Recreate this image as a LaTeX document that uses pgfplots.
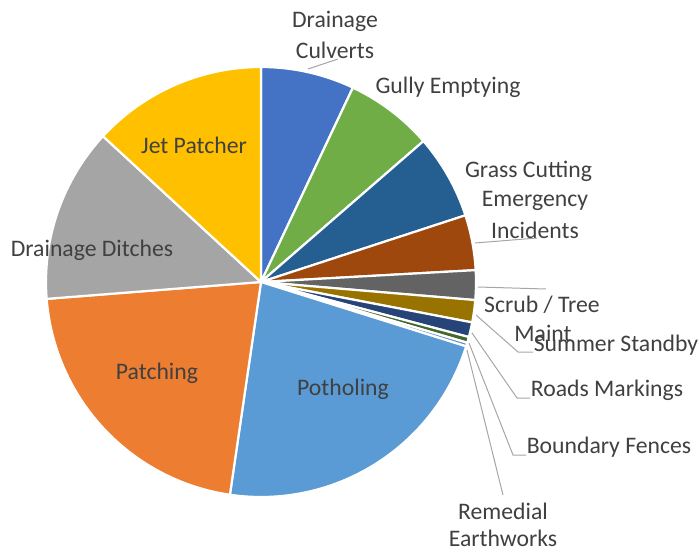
\documentclass[border=0pt]{standalone}
\usepackage{pgfplots}
\pgfplotsset{compat=1.18}
\usepackage{fontspec}
\setmainfont{Carlito}
\definecolor{c1}{HTML}{4472C4}
\definecolor{c2}{HTML}{70AD47}
\definecolor{c3}{HTML}{255E91}
\definecolor{c4}{HTML}{9E480E}
\definecolor{c5}{HTML}{636363}
\definecolor{c6}{HTML}{997300}
\definecolor{c7}{HTML}{264478}
\definecolor{c8}{HTML}{43682B}
\definecolor{c9}{HTML}{698ED0}
\definecolor{c10}{HTML}{5B9BD5}
\definecolor{c11}{HTML}{ED7D31}
\definecolor{c12}{HTML}{A5A5A5}
\definecolor{c13}{HTML}{FFC000}
\definecolor{txt}{HTML}{404040}
\definecolor{lead}{HTML}{A6A6A6}
\tikzset{lbl/.style={font=\fontsize{23.7}{28.5}\selectfont, text=txt, inner sep=0pt}}
\newcommand\cum{0}
\newcommand\slice[2]{%
  \pgfmathsetmacro\sa{\cum*3.6}%
  \pgfmathsetmacro\newcum{\cum+#1}%
  \pgfmathsetmacro\sb{\newcum*3.6}%
  \xdef\cum{\newcum}%
  \edef\temp{\noexpand\addplot[fill=#2, draw=white, line width=2.2pt, line join=round, domain=\sa:\sb, samples=80] ({261+215*sin(x)},{282-215*cos(x)}) -- (axis cs:261,282) -- cycle;}%
  \temp}
\begin{document}
\begin{tikzpicture}
\useasboundingbox (0,0) rectangle (699pt,552pt);
\begin{axis}[hide axis, scale only axis, width=699pt, height=552pt,
  xmin=0, xmax=699, ymin=0, ymax=552, y dir=reverse, clip=false]
% slice values (percent), clockwise from 12 o'clock
\slice{7.03}{c1}  % Drainage Culverts
\slice{6.60}{c2}  % Gully Emptying
\slice{6.35}{c3}  % Grass Cutting
\slice{4.14}{c4}  % Emergency Incidents
\slice{2.22}{c5}  % Scrub / Tree Maint
\slice{1.67}{c6}  % Summer Standby
\slice{1.11}{c7}  % Roads Markings
\slice{0.44}{c8}  % Boundary Fences
\slice{0.28}{c9}  % Remedial Earthworks
\slice{22.47}{c10} % Potholing
\slice{21.44}{c11} % Patching
\slice{13.11}{c12} % Drainage Ditches
\slice{13.14}{c13} % Jet Patcher
% leader lines
\addplot[lead, line width=1pt] coordinates {(308,69) (338,59)};
\addplot[lead, line width=1pt] coordinates {(475,243) (537,238)};
\addplot[lead, line width=1pt] coordinates {(478,287) (546,289)};
\addplot[lead, line width=1pt] coordinates {(476,315) (518,352) (533,352)};
\addplot[lead, line width=1pt] coordinates {(472,333) (517,398) (530,398)};
\addplot[lead, line width=1pt] coordinates {(469,343) (513,455) (526,455)};
\addplot[lead, line width=1pt] coordinates {(467,350) (503,495)};
% labels
\node[lbl] at (axis cs:335,21) {Drainage};
\node[lbl] at (axis cs:335,50) {Culverts};
\node[lbl] at (axis cs:448,87) {Gully Emptying};
\node[lbl] at (axis cs:528.5,171) {Grass Cutting};
\node[lbl] at (axis cs:535,201) {Emergency};
\node[lbl] at (axis cs:535,230) {Incidents};
\node[lbl] at (axis cs:542,305) {Scrub / Tree};
\node[lbl] at (axis cs:543,333) {Maint};
\node[lbl] at (axis cs:616,345) {Summer Standby};
\node[lbl] at (axis cs:607,390) {Roads Markings};
\node[lbl] at (axis cs:609,447) {Boundary Fences};
\node[lbl] at (axis cs:503,511) {Remedial};
\node[lbl] at (axis cs:503,538) {Earthworks};
\node[lbl] at (axis cs:194,145) {Jet Patcher};
\node[lbl] at (axis cs:92,250) {Drainage Ditches};
\node[lbl] at (axis cs:157,373) {Patching};
\node[lbl] at (axis cs:343,389) {Potholing};
\end{axis}
\end{tikzpicture}
\end{document}
